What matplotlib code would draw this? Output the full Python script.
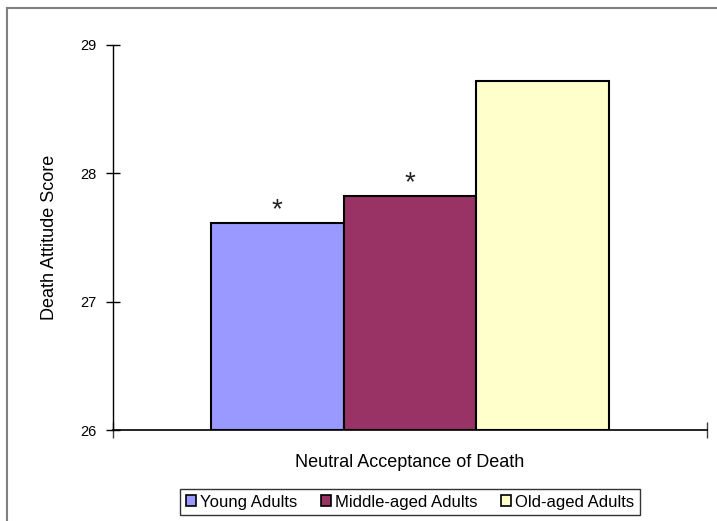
import numpy as np
import matplotlib.pyplot as plt
from matplotlib.patches import Patch
from matplotlib.lines import Line2D

plt.rcParams['font.family'] = ['Liberation Sans', 'DejaVu Sans']

groups = ['Young Adults', 'Middle-aged Adults', 'Old-aged Adults']
scores = [27.61, 27.82, 28.72]
significant = [True, True, False]
colors = ['#9999FF', '#993366', '#FFFFCC']
category = 'Neutral Acceptance of Death'
yticks = [26, 27, 28, 29]

fig = plt.figure(figsize=(7.17, 5.21), dpi=100)
ax = fig.add_axes([113 / 717, 1 - 430 / 521, 594 / 717, 385 / 521])

width = 0.2235
offsets = (np.arange(len(groups)) - 1) * width + 0.5
for x, s, c, sig in zip(offsets, scores, colors, significant):
    ax.bar(x, s - 26, bottom=26, width=width, color=c, edgecolor='black', linewidth=1.5)
    if sig:
        ax.annotate('*', (x, s), xytext=(0, 0), textcoords='offset points',
                    ha='center', va='bottom', fontsize=20, color='#222222')

ax.set_xlim(0, 1)
ax.set_ylim(26, 29)
ax.set_yticks(yticks)
ax.set_xticks([0, 1])
ax.set_xticklabels([])
ax.tick_params(axis='y', direction='inout', length=10, width=1, labelsize=10.5, pad=7)
ax.tick_params(axis='x', direction='inout', length=12, width=1, color='#404040')
for sp in ['top', 'right']:
    ax.spines[sp].set_visible(False)
ax.spines['left'].set_linewidth(1)
ax.spines['bottom'].set_linewidth(1.2)

ax.set_ylabel('Death Attitude Score', fontsize=13, labelpad=16)
ax.set_xlabel(category, fontsize=13, labelpad=8)

handles = [Patch(facecolor=c, edgecolor='black', linewidth=1.2) for c in colors]
leg = fig.legend(handles, groups, loc='center', bbox_to_anchor=(410 / 717, 1 - 502 / 521),
                 ncol=3, fontsize=12, frameon=True, fancybox=False, edgecolor='black',
                 handlelength=0.6, handleheight=0.6, handletextpad=0.25, columnspacing=1.4,
                 borderpad=0.35)
leg.get_frame().set_linewidth(1)

# figure border (left and top visible)
fig.add_artist(Line2D([7 / 717, 7 / 717], [0, 1 - 8 / 521], transform=fig.transFigure,
                      color='#808080', linewidth=1.5))
fig.add_artist(Line2D([7 / 717, 1], [1 - 8 / 521, 1 - 8 / 521], transform=fig.transFigure,
                      color='#808080', linewidth=1.5))

fig.savefig('out.png', dpi=100)
